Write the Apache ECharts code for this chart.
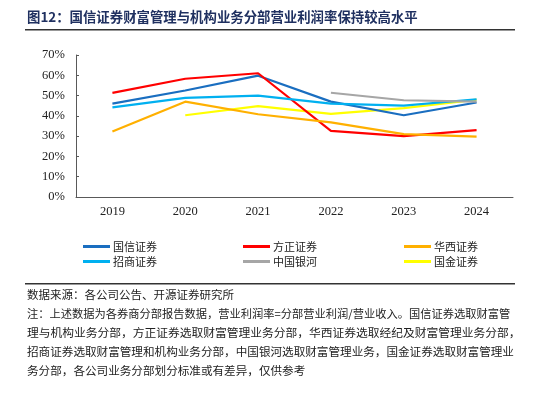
<!DOCTYPE html>
<html><head><meta charset="utf-8">
<script src="https://cdn.jsdelivr.net/npm/echarts@6/dist/echarts.min.js"></script>
<style>html,body{margin:0;padding:0;background:#fff}#c{width:550px;height:396px}</style>
</head><body><div id="c"></div>
<script>
const categories = ['2019','2020','2021','2022','2023','2024'];
const guoxin   = [46.0, 52.5, 59.8, 47.0, 40.3, 46.6];
const fangzheng= [51.3, 58.3, 61.0, 32.6, 30.0, 33.0];
const huaxi    = [32.3, 47.0, 40.8, 36.8, 31.0, 29.8];
const zhaoshang= [44.2, 48.9, 50.0, 46.0, 45.0, 48.2];
const yinhe    = [null, null, null, 51.4, 47.7, 47.0];
const guojin   = [null, 40.3, 44.8, 41.0, 43.8, 48.0];
const yTicks = [0,10,20,30,40,50,60,70];
const names = ['国信证券','方正证券','华西证券','招商证券','中国银河','国金证券'];
const colors = ['#1a6ec0','#ff0000','#ffb000','#00b0f0','#a6a6a6','#ffff00'];
const titleText = '图12：国信证券财富管理与机构业务分部营业利润率保持较高水平';
const sourceText = '数据来源：各公司公告、开源证券研究所';
const noteLines = [
 '注：上述数据为各券商分部报告数据，营业利润率=分部营业利润/营业收入。国信证券选取财富管',
 '理与机构业务分部，方正证券选取财富管理业务分部，华西证券选取经纪及财富管理业务分部，',
 '招商证券选取财富管理和机构业务分部，中国银河选取财富管理业务，国金证券选取财富管理业',
 '务分部，各公司业务分部划分标准或有差异，仅供参考'
];
const noteSizes = [11.25, 11.75, 11.6, 11.6];
const seriesData = [guoxin, fangzheng, huaxi, zhaoshang, yinhe, guojin];

const chart = echarts.init(document.getElementById('c'));
const legendCommon = {
  orient:'vertical', itemWidth:27, itemHeight:3, icon:'rect', itemGap:2,
  textStyle:{fontFamily:'Noto Sans CJK SC', fontSize:11, color:'#222', lineHeight:13, padding:[0,0,0,-2]},
  padding:0
};
const graphics = [
  {type:'text', left:27, top:10, style:{text:titleText, font:'bold 13.4px "Noto Sans CJK SC"', fill:'#1f3060'}},
  {type:'rect', shape:{x:25,y:29,width:490,height:1.5}, style:{fill:'#333'}},
  {type:'rect', shape:{x:25,y:283,width:490,height:1.5}, style:{fill:'#333'}},
  {type:'text', left:27, top:289, style:{text:sourceText, font:'11.5px "Noto Sans CJK SC"', fill:'#222'}}
];
noteLines.forEach((t,i)=>graphics.push({type:'text', left:27, top:308+i*19, style:{text:t, font:noteSizes[i]+'px "Noto Sans CJK SC"', fill:'#222'}}));

chart.setOption({
  animation:false,
  grid:{left:76, right:37, top:55, bottom:199},
  xAxis:{type:'category', data:categories, boundaryGap:true,
    axisLine:{lineStyle:{color:'#595959', width:1}},
    axisTick:{inside:true, length:4, lineStyle:{color:'#595959'}},
    axisLabel:{fontFamily:'Liberation Serif', fontSize:12.5, color:'#222', margin:8}},
  yAxis:{type:'value', min:0, max:70, interval:10,
    axisLine:{show:true, lineStyle:{color:'#595959', width:1}},
    axisTick:{show:true, inside:true, length:3, lineStyle:{color:'#595959'}},
    splitLine:{show:false},
    axisLabel:{fontFamily:'Liberation Serif', fontSize:12.5, color:'#222', margin:11,
      formatter:v=>v+'%'}},
  legend:[
    Object.assign({left:83, top:240, data:[names[0],names[3]]}, legendCommon),
    Object.assign({left:243, top:240, data:[names[1],names[4]]}, legendCommon),
    Object.assign({left:404, top:240, data:[names[2],names[5]]}, legendCommon)
  ],
  graphic:graphics,
  series: names.map((n,i)=>({name:n, type:'line', data:seriesData[i], showSymbol:false, symbol:'none',
    lineStyle:{width:2.2, color:colors[i]}, itemStyle:{color:colors[i]}, z: i===5?1:2}))
});
</script></body></html>
